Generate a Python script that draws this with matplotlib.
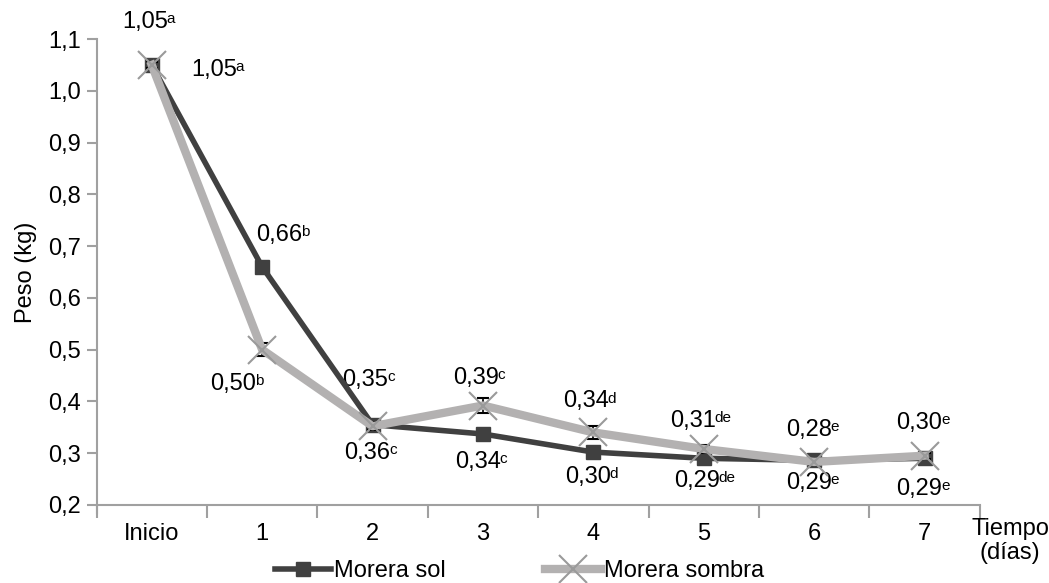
import matplotlib.pyplot as plt
from matplotlib.lines import Line2D
from matplotlib.ticker import FixedLocator, FuncFormatter

plt.rcParams['font.family'] = ['Liberation Sans', 'DejaVu Sans']

dias = ['Inicio', '1', '2', '3', '4', '5', '6', '7']
sol = [1.05, 0.66, 0.355, 0.337, 0.302, 0.29, 0.286, 0.29]
sombra = [1.05, 0.50, 0.352, 0.392, 0.34, 0.308, 0.283, 0.295]
err_sol = [0.005, 0.005, 0.005, 0.005, 0.005, 0.005, 0.005, 0.005]
err_sombra = [0.005, 0.012, 0.008, 0.014, 0.012, 0.008, 0.006, 0.006]
et_sol = ['1,05', '0,66', '0,36', '0,34', '0,30', '0,29', '0,29', '0,29']
sup_sol = ['a', 'b', 'c', 'c', 'd', 'de', 'e', 'e']
et_sombra = ['1,05', '0,50', '0,35', '0,39', '0,34', '0,31', '0,28', '0,30']
sup_sombra = ['a', 'b', 'c', 'c', 'd', 'de', 'e', 'e']

# desplazamientos de las etiquetas (pixeles)
off_sol = [(62, -5), (17, 32), (-5, -28), (-5, -28), (-5, -25), (-7, -23), (-5, -23), (-5, -31)]
off_sombra = [(-7, 43), (-29, -34), (-7, 46), (-7, 28), (-7, 31), (-11, 28), (-5, 32), (-5, 33)]

x = list(range(len(dias)))
gris_eje = '#a0a0a0'
c_sol = '#404040'
c_sombra = '#b3b1b1'
fs = 17

fig = plt.figure(figsize=(10.49, 5.83), dpi=100)
ax = fig.add_axes([0.092, 0.134, 0.842, 0.799])

ax.errorbar(x, sol, yerr=err_sol, color=c_sol, lw=4, marker='s', ms=10,
            ecolor='black', elinewidth=1.2, capsize=4, zorder=3)
ax.errorbar(x, sombra, yerr=err_sombra, color=c_sombra, lw=6, marker='x', ms=20,
            mew=1.5, mec='#9a9a9a', ecolor='black', elinewidth=1.2, capsize=4, zorder=4)


def etiqueta(i, y, txt, sup, off):
    t = ax.annotate(txt, (i, y), xytext=off, textcoords='offset pixels',
                    ha='center', va='center', fontsize=fs)
    ax.annotate(sup, xy=(1, 0.95), xycoords=t, xytext=(-1.5, 0),
                textcoords='offset pixels', ha='left', va='top', fontsize=11)


for i in x:
    etiqueta(i, sol[i], et_sol[i], sup_sol[i], off_sol[i])
    etiqueta(i, sombra[i], et_sombra[i], sup_sombra[i], off_sombra[i])

ax.set_xlim(-0.5, 7.5)
ax.set_ylim(0.2, 1.1)
ax.set_xticks(x)
ax.set_xticklabels(dias)
ax.xaxis.set_minor_locator(FixedLocator([i + 0.5 for i in range(-1, 8)]))
ax.tick_params(axis='x', which='major', length=0, pad=13, labelsize=fs)
ax.tick_params(axis='x', which='minor', length=9, color=gris_eje, width=1.5)
ax.set_yticks([0.2 + 0.1 * i for i in range(10)])
ax.yaxis.set_major_formatter(FuncFormatter(lambda v, p: f'{v:.1f}'.replace('.', ',')))
ax.tick_params(axis='y', length=7, color=gris_eje, width=1.5, labelsize=fs, pad=4)
for s in ['top', 'right']:
    ax.spines[s].set_visible(False)
for s in ['left', 'bottom']:
    ax.spines[s].set_color(gris_eje)
    ax.spines[s].set_linewidth(1.5)
ax.spines['left'].set_bounds(0.185, 1.1)
ax.set_ylabel('Peso (kg)', fontsize=fs, labelpad=8)

fig.text(0.963, 0.072, 'Tiempo\n(días)', ha='center', va='center', fontsize=fs,
         linespacing=1.1)

handles = [
    Line2D([], [], color=c_sol, lw=4, marker='s', ms=10),
    Line2D([], [], color=c_sombra, lw=6, marker='x', ms=20, mew=1.5, mec='#9a9a9a'),
]
fig.legend(handles, ['Morera sol', 'Morera sombra'], loc='lower center',
           bbox_to_anchor=(0.495, -0.035), ncol=2, frameon=False, fontsize=fs,
           handlelength=2.4, columnspacing=4.2, handletextpad=0.1)

fig.savefig('out.png', dpi=100)
